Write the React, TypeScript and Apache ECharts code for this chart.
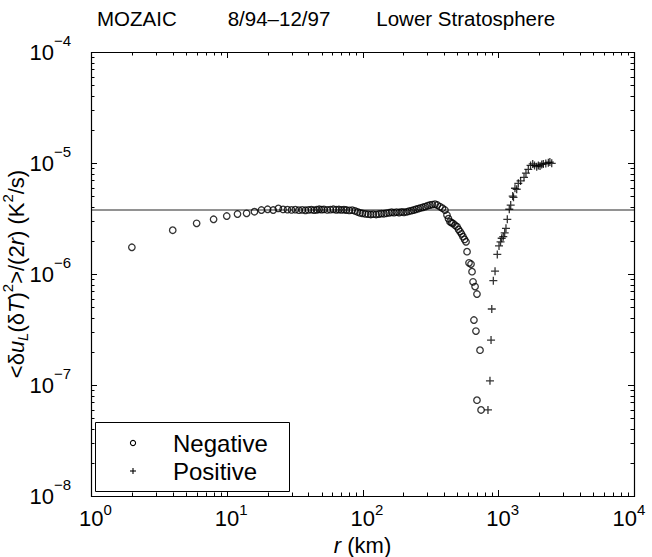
import { useEffect, useRef } from "react";
import * as echarts from "echarts";

const negativeR = [
  2, 4, 6, 8, 10, 12, 14, 16, 18, 20, 22, 24, 26, 28, 30, 32, 34, 36, 38, 40, 42, 44, 46, 48, 50, 52, 55, 58, 61, 64,
  67, 70, 73, 76, 80, 84, 88, 92, 96, 100, 105, 110, 115, 120, 126, 132, 138, 144, 150, 157, 164, 171, 178, 186, 194,
  202, 211, 220, 229, 238, 248, 258, 268, 279, 290, 302, 314, 327, 342, 356, 372, 388, 405, 419, 430, 441, 452, 464,
  480, 497, 510, 523, 536, 550, 565, 579, 589, 609, 630, 641, 652, 675, 697, 662, 685, 734, 697, 747,
];
const negativeV = [
  1.74e-6, 2.48e-6, 2.86e-6, 3.11e-6, 3.33e-6, 3.47e-6, 3.52e-6, 3.64e-6, 3.77e-6, 3.83e-6, 3.77e-6, 3.9e-6, 3.82e-6,
  3.8e-6, 3.78e-6, 3.8e-6, 3.76e-6, 3.78e-6, 3.75e-6, 3.78e-6, 3.8e-6, 3.76e-6, 3.79e-6, 3.83e-6, 3.8e-6, 3.82e-6,
  3.78e-6, 3.8e-6, 3.83e-6, 3.79e-6, 3.81e-6, 3.78e-6, 3.8e-6, 3.77e-6, 3.74e-6, 3.76e-6, 3.7e-6, 3.62e-6, 3.55e-6,
  3.52e-6, 3.48e-6, 3.46e-6, 3.44e-6, 3.46e-6, 3.44e-6, 3.47e-6, 3.5e-6, 3.49e-6, 3.53e-6, 3.56e-6, 3.6e-6, 3.57e-6,
  3.61e-6, 3.58e-6, 3.62e-6, 3.6e-6, 3.63e-6, 3.68e-6, 3.72e-6, 3.77e-6, 3.83e-6, 3.88e-6, 3.94e-6, 3.99e-6, 4.05e-6,
  4.12e-6, 4.18e-6, 4.22e-6, 4.25e-6, 4.18e-6, 4.04e-6, 3.92e-6, 3.77e-6, 3.4e-6, 3.15e-6, 2.96e-6, 2.9e-6, 2.86e-6,
  2.75e-6, 2.67e-6, 2.52e-6, 2.41e-6, 2.3e-6, 2.17e-6, 2.05e-6, 1.95e-6, 1.59e-6, 1.26e-6, 1.23e-6, 1.05e-6, 8.5e-7,
  7.7e-7, 6.6e-7, 3.85e-7, 3.06e-7, 2.06e-7, 7.3e-8, 5.96e-8,
];
const positiveR = [
  840, 869, 885, 896, 920, 947, 984, 1013, 1040, 1060, 1089, 1115, 1140, 1166, 1206, 1235, 1278, 1295, 1328, 1367,
  1405, 1460, 1548, 1600, 1665, 1730, 1794, 1850, 1920, 1975, 2031, 2090, 2148, 2240, 2339, 2400, 2477,
];
const positiveV = [
  5.96e-8, 1.09e-7, 2.54e-7, 4.84e-7, 8.7e-7, 1.06e-6, 1.5e-6, 1.79e-6, 1.95e-6, 2.1e-6, 2.17e-6, 2.35e-6, 2.58e-6,
  3.11e-6, 3.83e-6, 4.18e-6, 5.04e-6, 4.91e-6, 5.92e-6, 5.8e-6, 6.56e-6, 6.9e-6, 7.43e-6, 8.1e-6, 8.77e-6, 9.5e-6,
  9.8e-6, 9.5e-6, 9.27e-6, 9.5e-6, 9.4e-6, 9.7e-6, 9.8e-6, 9.9e-6, 1.007e-5, 1.02e-5, 9.93e-6,
];
const referenceLevel = 3.77e-6;
const titleParts = ["MOZAIC", "8/94–12/97", "Lower Stratosphere"];
const legendLabels = ["Negative", "Positive"];
const xRange = [1, 10000];
const yRange = [1e-8, 1e-4];

const FONT = "'Liberation Sans', Arial, Helvetica, sans-serif";

function expText(v: number) {
  const e = Math.round(Math.log10(v));
  return e < 0 ? "\u2212" + String(-e) : String(e);
}

export default function App() {
  const ref = useRef<HTMLDivElement>(null);
  useEffect(() => {
    const chart = echarts.init(ref.current!, null, { renderer: "svg" });

    const tickRender = (params: any, api: any) => {
      const cs = params.coordSys;
      const x0 = cs.x;
      const y0 = cs.y;
      const x1 = cs.x + cs.width;
      const y1 = cs.y + cs.height;
      const children: any[] = [];
      const st = { stroke: "#000", lineWidth: 1 };
      const major = 6;
      const minor = 3.5;
      for (let e = 0; e < 4; e++) {
        for (let k = 1; k <= 9; k++) {
          if (e === 0 && k === 1) continue;
          const px = Math.round(api.coord([k * Math.pow(10, e), 1e-6])[0]) + 0.5;
          const len = k === 1 ? major : minor;
          children.push({ type: "line", shape: { x1: px, y1: y1, x2: px, y2: y1 - len }, style: st });
          children.push({ type: "line", shape: { x1: px, y1: y0, x2: px, y2: y0 + len }, style: st });
        }
      }
      for (let e = -8; e < -4; e++) {
        for (let k = 1; k <= 9; k++) {
          if (e === -8 && k === 1) continue;
          const py = Math.round(api.coord([10, k * Math.pow(10, e)])[1]) + 0.5;
          const len = k === 1 ? major : minor;
          children.push({ type: "line", shape: { x1: x0, y1: py, x2: x0 + len, y2: py }, style: st });
          children.push({ type: "line", shape: { x1: x1, y1: py, x2: x1 - len, y2: py }, style: st });
        }
      }
      children.push({
        type: "rect",
        shape: { x: Math.round(x0) + 0.5, y: Math.round(y0) + 0.5, width: Math.round(cs.width), height: Math.round(cs.height) },
        style: { fill: "none", stroke: "#000", lineWidth: 1.2 },
      });
      return { type: "group", children };
    };

    const option: any = {
      animation: false,
      backgroundColor: "#fff",
      textStyle: { fontFamily: FONT },
      title: {
        text: `{t|${titleParts[0]}}{g1|}{t|${titleParts[1]}}{g2|}{t|${titleParts[2]}}`,
        left: 97,
        top: 8,
        padding: 0,
        textStyle: {
          rich: {
            t: { fontFamily: FONT, fontSize: 20.5, color: "#000", fontWeight: "normal" },
            g1: { width: 51 },
            g2: { width: 46 },
          },
        },
      },
      grid: {
        left: 91,
        top: 52,
        right: 18,
        bottom: 61,
        outerBoundsMode: "none",
        containLabel: false,
        show: false,
      },
      xAxis: {
        type: "log",
        logBase: 10,
        min: xRange[0],
        max: xRange[1],
        axisLine: { show: false },
        axisTick: { show: false },
        splitLine: { show: false },
        axisLabel: {
          margin: 6,
          hideOverlap: false,
          formatter: (v: number) =>
            v >= xRange[1] * 0.999 ? `{c|10}{f|${expText(v)}}` : `{b|10}{e|${expText(v)}}`,
          rich: {
            b: { fontFamily: FONT, fontSize: 22, lineHeight: 22, color: "#000", padding: [10, 0, 0, 9] },
            e: { fontFamily: FONT, fontSize: 15, lineHeight: 15, color: "#000", verticalAlign: "top" },
            c: { fontFamily: FONT, fontSize: 22, lineHeight: 22, color: "#000", padding: [10, 0, 0, 0] },
            f: { fontFamily: FONT, fontSize: 15, lineHeight: 15, color: "#000", verticalAlign: "top", padding: [0, 10, 0, 0] },
          },
        },
        name: "{i|r}{n| (km)}",
        nameLocation: "middle",
        nameGap: 38,
        nameMoveOverlap: false,
        nameTextStyle: {
          rich: {
            i: { fontFamily: FONT, fontSize: 22, lineHeight: 22, fontStyle: "italic", color: "#000" },
            n: { fontFamily: FONT, fontSize: 22, lineHeight: 22, color: "#000" },
          },
        },
      },
      yAxis: {
        type: "log",
        logBase: 10,
        min: yRange[0],
        max: yRange[1],
        axisLine: { show: false },
        axisTick: { show: false },
        splitLine: { show: false },
        axisLabel: {
          margin: 20,
          formatter: (v: number) => `{b|10}{e|${expText(v)}}`,
          rich: {
            b: { fontFamily: FONT, fontSize: 22, color: "#000" },
            e: { fontFamily: FONT, fontSize: 15, color: "#000", padding: [0, 0, 24, 0] },
          },
        },
        name: "{n|<δ}{i|u}{s|L}{n|(δ}{i|T}{n|)}{p|2}{n|>/(2}{i|r}{n|) (K}{p|2}{n|/s)}",
        nameLocation: "middle",
        nameRotate: 90,
        nameGap: 59,
        nameMoveOverlap: false,
        nameTextStyle: {
          rich: {
            n: { fontFamily: FONT, fontSize: 22, color: "#000" },
            i: { fontFamily: FONT, fontSize: 22, fontStyle: "italic", color: "#000" },
            s: { fontFamily: FONT, fontSize: 15, fontStyle: "italic", color: "#000", padding: [13, 0, 0, 0] },
            p: { fontFamily: FONT, fontSize: 15, color: "#000", padding: [0, 0, 17, 0] },
          },
        },
      },
      series: [
        {
          type: "line",
          silent: true,
          symbol: "none",
          lineStyle: { color: "#6e6e6e", width: 1.6 },
          data: [
            [xRange[0], referenceLevel],
            [xRange[1], referenceLevel],
          ],
          z: 1,
        },
        {
          name: legendLabels[0],
          type: "scatter",
          symbol: "circle",
          symbolSize: 6.5,
          itemStyle: { color: "rgba(0,0,0,0)", borderColor: "#000", borderWidth: 1.3 },
          data: negativeR.map((r, i) => [r, negativeV[i]]),
          z: 3,
        },
        {
          name: legendLabels[1],
          type: "scatter",
          symbol: "path://M4,0 L4,8 M0,4 L8,4",
          symbolSize: 8,
          itemStyle: { color: "rgba(0,0,0,0)", borderColor: "#000", borderWidth: 1.3 },
          data: positiveR.map((r, i) => [r, positiveV[i]]),
          z: 3,
        },
        {
          type: "custom",
          silent: true,
          clip: false,
          renderItem: tickRender,
          data: [[10, 1e-6]],
          z: 4,
        },
      ],
      graphic: [
        {
          type: "rect",
          shape: { x: 95.5, y: 422.5, width: 194, height: 69 },
          style: { fill: "#fff", stroke: "#000", lineWidth: 1 },
          z: 10,
        },
        {
          type: "circle",
          shape: { cx: 133, cy: 443, r: 2.6 },
          style: { fill: "none", stroke: "#000", lineWidth: 1.1 },
          z: 11,
        },
        {
          type: "line",
          shape: { x1: 130, y1: 471, x2: 136, y2: 471 },
          style: { stroke: "#000", lineWidth: 1.1 },
          z: 11,
        },
        {
          type: "line",
          shape: { x1: 133, y1: 468, x2: 133, y2: 474 },
          style: { stroke: "#000", lineWidth: 1.1 },
          z: 11,
        },
        {
          type: "text",
          x: 173,
          y: 443,
          style: { text: legendLabels[0], font: `24px ${FONT}`, fill: "#000", verticalAlign: "middle" },
          z: 11,
        },
        {
          type: "text",
          x: 173,
          y: 471,
          style: { text: legendLabels[1], font: `24px ${FONT}`, fill: "#000", verticalAlign: "middle" },
          z: 11,
        },
      ],
    };
    chart.setOption(option);
    return () => chart.dispose();
  }, []);
  return <div ref={ref} style={{ position: "absolute", left: 0, top: 0, width: 652, height: 557 }} />;
}
